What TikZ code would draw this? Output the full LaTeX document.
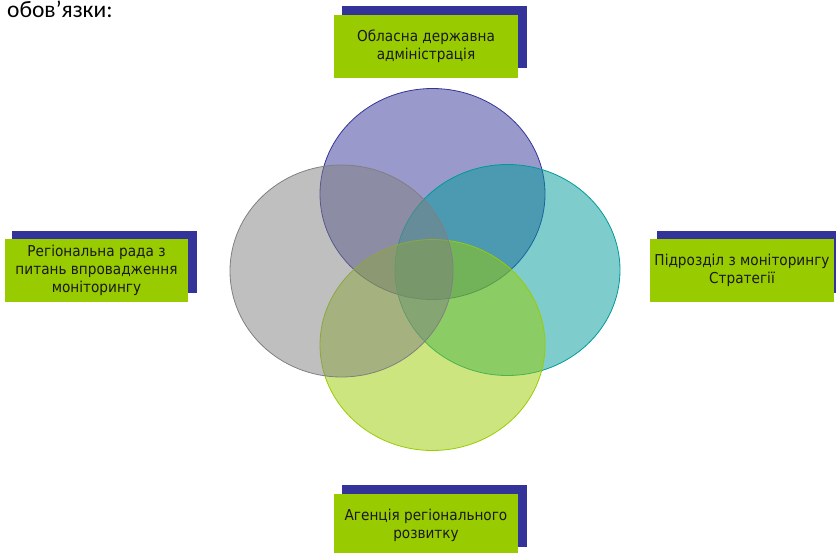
\documentclass[tikz,border=0pt]{standalone}
\usepackage{fontspec}
\setmainfont{DejaVu Sans}[FakeStretch=0.91]
\newfontfamily\headfont{Carlito}
\usetikzlibrary{shapes.geometric}
\definecolor{vpurple}{HTML}{333399}
\definecolor{vteal}{HTML}{009999}
\definecolor{vgreen}{HTML}{99CC00}
\definecolor{vgray}{HTML}{808080}
\definecolor{boxgreen}{HTML}{99CC00}
\definecolor{boxblue}{HTML}{333399}
\tikzset{
  venn/.style={ellipse, inner sep=0pt, minimum width=225pt, minimum height=211pt, line width=0.8pt, fill opacity=0.5},
  shadowbox/.style={rectangle, inner sep=0pt, fill=boxblue, minimum height=62pt},
  labelbox/.style={rectangle, inner sep=0pt, fill=boxgreen, minimum height=63pt, minimum width=184pt, align=center, font=\fontsize{15}{18}\selectfont, text=black!90},
}
\begin{document}
\begin{tikzpicture}[x=1pt,y=-1pt]
\useasboundingbox (0,0) rectangle (836,552);
\clip (0,0) rectangle (836,552);
% heading
\node[anchor=base west, inner sep=0pt, font=\headfont\fontsize{23.5}{27}\selectfont] (head) at (7,17) {обов’язки:};
% Venn ellipses
\node[venn, draw=vpurple, fill=vpurple] (ca) at (432.5,194) {};
\node[venn, draw=vteal, fill=vteal] (cb) at (507.5,270) {};
\node[venn, draw=vgreen, fill=vgreen] (cc) at (432.5,345) {};
\node[venn, draw=vgray, fill=vgray, minimum width=223pt, minimum height=212pt] (cd) at (341.5,271) {};
% top box
\node[shadowbox, minimum width=185pt] (ts) at (434.5,37) {};
\node[labelbox] (top) at (426,46) {Обласна державна\\адміністрація};
% left box
\node[shadowbox, minimum width=185pt] (ls) at (104.5,261.5) {};
\node[labelbox, minimum width=183pt] (left) at (96.5,270.5) {Регіональна рада з\\питань впровадження\\моніторингу};
% right box
\node[shadowbox, minimum width=179pt] (rs) at (746.5,262) {};
\node[labelbox] (right) at (742,270.5) {Підрозділ з моніторингу\\Стратегії};
% bottom box
\node[shadowbox, minimum width=185pt] (bs) at (434.5,516) {};
\node[labelbox] (bottom) at (426,525) {Агенція регіонального\\розвитку};
\end{tikzpicture}
\end{document}
